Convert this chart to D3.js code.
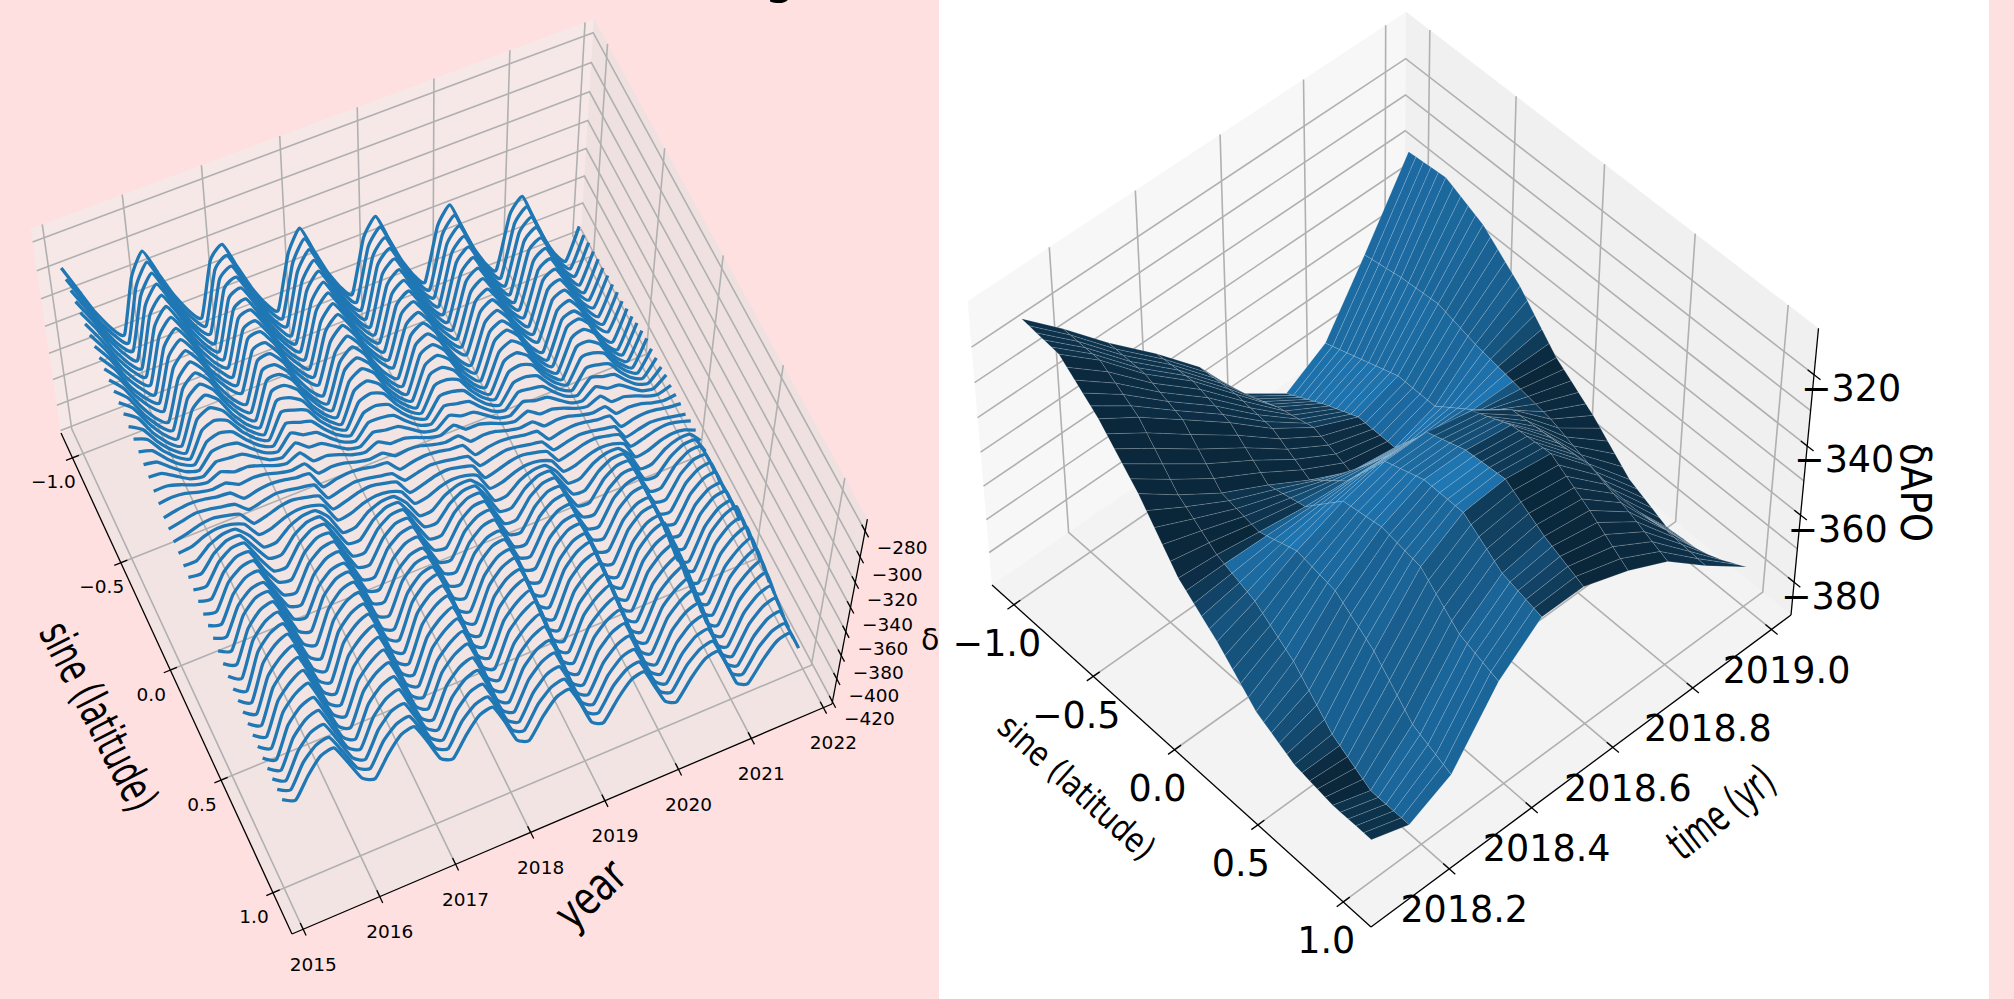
<!DOCTYPE html>
<html>
<head>
<meta charset="utf-8">
<script src="https://cdn.jsdelivr.net/npm/d3@7"></script>
<style>
  html, body { margin: 0; padding: 0; background: #ffe0e0; overflow: hidden; }
  text { font-family: "DejaVu Sans", sans-serif; fill: #000; }
</style>
</head>
<body>
<div id="chart"></div>
<script>
// left panel: one line per latitude, depth below zero (value is -depth)
const lineLats = d3.range(46).map(i => -1 + 2 * i / 45);
const lineTimes = d3.range(42).map(k => 2015.05 + k / 6);
const lineDepths = [
[284,303,322,337,346,308,293,312,331,346,355,317,309,328,347,362,371,333,318,337,356,371,380,342,330,349,368,383,392,354,342,361,380,395,404,366,356,375,394,409,418,395],
[285,303,322,336,345,308,294,312,331,345,354,317,310,328,347,361,370,333,319,337,356,370,379,342,331,349,368,382,391,354,343,361,380,394,403,366,357,375,394,408,417,395],
[286,303,321,336,344,308,295,312,330,345,353,317,311,328,346,361,369,333,320,337,355,370,378,342,332,349,367,382,390,354,344,361,379,394,402,366,358,375,393,408,416,394],
[287,303,321,335,344,308,296,312,330,344,353,317,312,328,346,360,369,333,321,337,355,369,378,342,333,349,367,381,390,354,345,361,379,393,402,366,359,375,393,407,416,394],
[288,303,321,335,343,308,297,312,330,344,352,317,313,328,346,360,368,333,322,337,355,369,377,342,334,349,367,381,389,354,346,361,379,393,401,366,360,375,393,407,415,393],
[289,304,321,334,342,309,298,313,330,343,351,318,314,329,346,359,367,334,323,338,355,368,376,343,335,350,367,380,388,355,347,362,379,392,400,367,361,376,393,406,414,393],
[290,304,321,334,341,309,299,313,330,343,350,318,315,329,346,359,366,334,324,338,355,368,375,343,336,350,367,380,387,355,348,362,379,392,399,367,362,376,393,406,413,392],
[291,304,321,333,341,310,300,313,330,342,350,319,316,329,346,358,366,335,325,338,355,367,375,344,337,350,367,379,387,356,349,362,379,391,399,368,363,376,393,405,413,392],
[292,304,321,333,340,310,301,313,330,342,349,319,317,329,346,358,365,335,326,338,355,367,374,344,338,350,367,379,386,356,350,362,379,391,398,368,364,376,393,405,412,391],
[293,304,320,332,339,311,302,313,329,341,348,320,318,329,345,357,364,336,327,338,354,366,373,345,339,350,366,378,385,357,351,362,378,390,397,369,365,376,392,404,411,391],
[294,304,320,333,340,312,303,313,329,342,349,321,319,329,345,358,365,337,328,338,354,367,374,346,340,350,366,379,386,358,352,362,378,391,398,370,366,376,392,405,412,390],
[295,304,320,332,339,312,304,313,329,341,348,321,320,329,345,357,364,337,329,338,354,366,373,346,341,350,366,378,385,358,353,362,378,390,397,370,367,376,392,404,411,389],
[296,304,319,331,338,312,305,313,328,340,347,321,320,328,343,355,362,336,330,338,353,365,372,346,342,350,365,377,384,358,353,361,376,388,395,369,366,374,389,401,408,387],
[297,304,319,330,336,313,306,313,328,339,345,322,321,328,343,354,360,337,331,338,353,364,370,347,343,350,365,376,382,359,354,361,376,387,393,370,367,374,389,400,406,386],
[299,305,318,328,334,313,308,314,327,337,343,322,323,329,342,352,358,337,333,339,352,362,368,347,345,351,364,374,380,359,356,362,375,385,391,370,369,375,388,398,404,385],
[301,305,317,326,331,314,310,314,326,335,340,323,325,329,341,350,355,338,335,339,351,360,365,348,347,351,363,372,377,360,358,362,374,383,388,371,371,375,387,396,401,386],
[303,306,316,324,328,315,312,315,325,333,337,324,327,330,340,348,352,339,337,340,350,358,362,349,349,352,362,370,374,361,360,363,373,381,385,372,373,376,386,394,398,386],
[305,307,315,322,325,315,314,316,324,331,334,324,329,331,339,346,349,339,339,341,349,356,359,349,351,353,361,368,371,361,362,364,372,379,382,372,375,377,385,392,395,386],
[307,308,314,320,322,315,316,317,323,329,331,324,331,332,338,344,346,339,341,342,348,354,356,349,353,354,360,366,368,361,364,365,371,377,379,372,377,378,384,390,392,385],
[310,310,313,317,319,315,319,319,322,326,328,324,334,334,337,341,343,339,344,344,347,351,353,349,356,356,359,363,365,361,367,367,370,374,376,372,380,380,383,387,389,386],
[312,311,312,315,317,316,321,320,321,324,326,325,336,335,336,339,341,340,346,345,346,349,351,350,358,357,358,361,363,362,369,368,369,372,374,373,382,381,382,385,387,386],
[315,313,312,313,315,316,324,322,321,322,324,325,339,337,336,337,339,340,349,347,346,347,349,350,361,359,358,359,361,362,372,370,369,370,372,373,385,383,382,383,385,386],
[316,314,312,313,315,317,325,323,321,322,324,326,340,338,336,337,339,341,350,348,346,347,349,351,362,360,358,359,361,363,373,371,369,370,372,374,386,384,382,383,385,387],
[318,316,313,312,314,317,328,326,323,322,324,327,341,339,336,335,337,340,352,350,347,346,348,351,364,362,359,358,360,363,374,372,369,368,370,373,386,384,381,380,382,385],
[319,318,314,312,313,317,329,328,324,322,323,327,342,341,337,335,336,340,353,352,348,346,347,351,365,364,360,358,359,363,375,374,370,368,369,373,387,386,382,380,381,385],
[321,321,313,309,309,318,331,331,323,319,319,328,344,344,336,332,332,341,355,355,347,343,343,352,367,367,359,355,355,364,377,377,369,365,365,374,389,389,381,377,377,386],
[322,323,312,306,306,319,332,333,322,316,316,329,345,346,335,329,329,342,356,357,346,340,340,353,368,369,358,352,352,365,378,379,368,362,362,375,390,391,380,374,374,387],
[324,325,311,304,304,320,334,335,321,314,314,330,347,348,334,327,327,343,358,359,345,338,338,354,370,371,357,350,350,366,380,381,367,360,360,376,392,393,379,372,372,388],
[325,327,311,303,303,321,335,337,321,313,313,331,348,350,334,326,326,344,359,361,345,337,337,355,371,373,357,349,349,367,381,383,367,359,359,377,393,395,379,371,371,389],
[327,329,311,303,302,321,337,339,321,313,312,331,350,352,334,326,325,344,361,363,345,337,336,355,373,375,357,349,348,367,383,385,367,359,358,377,395,397,379,371,370,389],
[328,331,312,303,302,321,338,341,322,313,312,331,351,354,335,326,325,344,362,365,346,337,336,355,374,377,358,349,348,367,384,387,368,359,358,377,396,399,380,371,370,389],
[330,333,313,304,303,320,340,343,323,314,313,330,353,356,336,327,326,343,364,367,347,338,337,354,376,379,359,350,349,366,386,389,369,360,359,376,398,401,381,372,371,388],
[332,336,313,303,302,321,342,346,323,313,312,331,355,359,336,326,325,344,366,370,347,337,336,355,378,382,359,349,348,367,388,392,369,359,358,377,400,404,381,371,370,389],
[334,339,315,304,302,322,344,349,325,314,312,332,357,362,338,327,325,345,368,373,349,338,336,356,380,385,361,350,348,368,390,395,371,360,358,378,402,407,383,372,370,390],
[336,342,316,305,302,323,346,352,326,315,312,333,357,363,337,326,323,344,369,375,349,338,335,356,381,387,361,350,347,368,390,396,370,359,356,377,401,407,381,370,367,388],
[338,344,317,306,303,324,348,354,327,316,313,334,359,365,338,327,324,345,371,377,350,339,336,357,383,389,362,351,348,369,392,398,371,360,357,378,403,409,382,371,368,389],
[339,345,318,307,303,325,349,355,328,317,313,335,360,366,339,328,324,346,372,378,351,340,336,358,384,390,363,352,348,370,393,399,372,361,357,379,404,410,383,372,368,390],
[340,346,320,309,304,326,350,356,330,319,314,336,361,367,341,330,325,347,373,379,353,342,337,359,385,391,365,354,349,371,394,400,374,363,358,380,405,411,385,374,369,391],
[341,347,321,310,305,327,351,357,331,320,315,337,362,368,342,331,326,348,374,380,354,343,338,360,386,392,366,355,350,372,395,401,375,364,359,381,406,412,386,375,370,392],
[342,348,323,312,307,329,352,358,333,322,317,339,363,369,344,333,328,350,375,381,356,345,340,362,387,393,368,357,352,374,396,402,377,366,361,383,407,413,388,377,372,394],
[343,349,324,313,309,330,353,359,334,323,319,340,364,370,345,334,330,351,376,382,357,346,342,363,388,394,369,358,354,375,397,403,378,367,363,384,408,414,389,378,374,395],
[344,350,326,315,312,332,354,360,336,325,322,342,365,371,347,336,333,353,377,383,359,348,345,365,389,395,371,360,357,377,398,404,380,369,366,386,409,415,391,380,377,397],
[344,350,328,317,314,334,354,360,338,327,324,344,365,371,349,338,335,355,377,383,361,350,347,367,389,395,373,362,359,379,398,404,382,371,368,388,409,415,393,382,379,399],
[344,350,330,319,317,335,354,360,340,329,327,345,365,371,351,340,338,356,377,383,363,352,350,368,389,395,375,364,362,380,398,404,384,373,371,389,409,415,395,384,382,400],
[344,349,331,321,319,336,354,359,341,331,329,346,365,370,352,342,340,357,377,382,364,354,352,369,389,394,376,366,364,381,398,403,385,375,373,390,409,414,396,386,384,401],
[344,349,333,321,319,336,354,359,343,331,329,346,365,370,354,342,340,357,377,382,366,354,352,369,389,394,378,366,364,381,398,403,387,375,373,390,409,414,398,386,384,401]
];
const lineSineTicks = [-1, -0.5, 0, 0.5, 1];
const lineSineLabels = ["−1.0", "−0.5", "0.0", "0.5", "1.0"];
const lineYearTicks = [2015, 2016, 2017, 2018, 2019, 2020, 2021, 2022];
const lineZTicks = [-280, -300, -320, -340, -360, -380, -400, -420];

// right panel: surface, rows are latitudes, columns are times
const surfLats = d3.range(46).map(i => -1 + 2 * i / 45);
const surfTimes = [2018.08, 2018.17, 2018.27, 2018.38, 2018.48, 2018.58, 2018.69, 2018.79, 2018.89, 2019.0];
const surfDepths = [
[312,322,334,346,358,374,383,376,358,337],
[312.2,322,334,345.8,357.8,373,381.8,375.2,357.6,336.8],
[312.4,322,334,345.6,357.6,372,380.6,374.4,357.2,336.6],
[312.6,322,334,345.4,357.4,371,379.4,373.6,356.8,336.4],
[312.8,322,334,345.2,357.2,370,378.2,372.8,356.4,336.2],
[313,322,334,345,357,369,377,372,356,336],
[314.8,323.4,334.8,345.6,357.2,368.4,376,371.2,355.8,337],
[316.6,324.8,335.6,346.2,357.4,367.8,375,370.4,355.6,338],
[318.4,326.2,336.4,346.8,357.6,367.2,374,369.6,355.4,339],
[320.2,327.6,337.2,347.4,357.8,366.6,373,368.8,355.2,340],
[322,329,338,348,358,366,372,368,355,341],
[324.4,331.6,340.4,349.8,359.2,366.8,372,368,355.6,342.8],
[326.8,334.2,342.8,351.6,360.4,367.6,372,368,356.2,344.6],
[329.2,336.8,345.2,353.4,361.6,368.4,372,368,356.8,346.4],
[331.6,339.4,347.6,355.2,362.8,369.2,372,368,357.4,348.2],
[334,342,350,357,364,370,372,368,358,350],
[337,343.6,350.4,356.4,362.2,367.2,369.2,366.4,358.4,352.4],
[340,345.2,350.8,355.8,360.4,364.4,366.4,364.8,358.8,354.8],
[343,346.8,351.2,355.2,358.6,361.6,363.6,363.2,359.2,357.2],
[346,348.4,351.6,354.6,356.8,358.8,360.8,361.6,359.6,359.6],
[349,350,352,354,355,356,358,360,360,362],
[350.8,350.8,351.2,351.8,352,352.8,355,358.2,360.4,363.6],
[352.6,351.6,350.4,349.6,349,349.6,352,356.4,360.8,365.2],
[354.4,352.4,349.6,347.4,346,346.4,349,354.6,361.2,366.8],
[356.2,353.2,348.8,345.2,343,343.2,346,352.8,361.6,368.4],
[358,354,348,343,340,340,343,351,362,370],
[360.2,355.6,348.4,342.6,339.2,339.2,342,350.8,362.8,372],
[362.4,357.2,348.8,342.2,338.4,338.4,341,350.6,363.6,374],
[364.6,358.8,349.2,341.8,337.6,337.6,340,350.4,364.4,376],
[366.8,360.4,349.6,341.4,336.8,336.8,339,350.2,365.2,378],
[369,362,350,341,336,336,338,350,366,380],
[370.2,364.4,351.6,341.4,336,335.8,337.8,349.8,366.6,381],
[371.4,366.8,353.2,341.8,336,335.6,337.6,349.6,367.2,382],
[372.6,369.2,354.8,342.2,336,335.4,337.4,349.4,367.8,383],
[373.8,371.6,356.4,342.6,336,335.2,337.2,349.2,368.4,384],
[375,374,358,343,336,335,337,349,369,385],
[375.4,375.4,360.4,345,337.6,336.4,338.4,349.8,368.6,384.8],
[375.8,376.8,362.8,347,339.2,337.8,339.8,350.6,368.2,384.6],
[376.2,378.2,365.2,349,340.8,339.2,341.2,351.4,367.8,384.4],
[376.6,379.6,367.6,351,342.4,340.6,342.6,352.2,367.4,384.2],
[377,381,370,353,344,342,344,353,367,384],
[377,381,371,353.8,344.6,343,345.6,354,367.2,382.8],
[377,381,372,354.6,345.2,344,347.2,355,367.4,381.6],
[377,381,373,355.4,345.8,345,348.8,356,367.6,380.4],
[377,381,374,356.2,346.4,346,350.4,357,367.8,379.2],
[377,381,375,357,347,347,352,358,368,378]
];
const surfSineTicks = [-1, -0.5, 0, 0.5, 1];
const surfSineLabels = ["−1.0", "−0.5", "0.0", "0.5", "1.0"];
const surfTimeTicks = [2018.2, 2018.4, 2018.6, 2018.8, 2019.0];
const surfTimeLabels = ["2018.2", "2018.4", "2018.6", "2018.8", "2019.0"];
const surfZGrid = [-320, -330, -340, -350, -360, -370, -380];
const surfZTicks = [-320, -340, -360, -380];

const width = 2014, height = 999, splitX = 939, whiteEnd = 1989;

const svg = d3.select("#chart").append("svg")
    .attr("width", width)
    .attr("height", height)
    .style("display", "block");

svg.append("rect").attr("width", width).attr("height", height).attr("fill", "#ffe0e0");
svg.append("defs").append("clipPath").attr("id", "leftClip")
    .append("rect").attr("width", splitX).attr("height", height);

// plain gaussian elimination
function solve(A, b) {
    let n = b.length;
    let M = A.map((r, i) => r.concat([b[i]]));
    for (let c = 0; c < n; c++) {
        let p = c;
        for (let r = c + 1; r < n; r++) if (Math.abs(M[r][c]) > Math.abs(M[p][c])) p = r;
        [M[c], M[p]] = [M[p], M[c]];
        for (let r = 0; r < n; r++) {
            if (r === c) continue;
            let f = M[r][c] / M[c][c];
            for (let k = c; k <= n; k++) M[r][k] -= f * M[c][k];
        }
    }
    return M.map((r, i) => r[n] / r[i]);
}

// camera from the screen position of the box corners: floor is a homography, z adds one column
function makeCamera(floor, top) {
    let uv = [[0, 0], [1, 0], [1, 1], [0, 1]];
    let A = [], b = [];
    floor.forEach((p, i) => {
        let [u, v] = uv[i], [X, Y] = p;
        A.push([u, v, 1, 0, 0, 0, -X * u, -X * v]); b.push(X);
        A.push([0, 0, 0, u, v, 1, -Y * u, -Y * v]); b.push(Y);
    });
    let [a1, a2, a3, b1, b2, b3, g, h] = solve(A, b);

    // least squares for the z column
    let N = [[0, 0, 0], [0, 0, 0], [0, 0, 0]], r = [0, 0, 0];
    top.forEach(t => {
        let [u, v, X, Y] = t;
        let W = g * u + h * v + 1;
        [[1, 0, -X, X * W - (a1 * u + a2 * v + a3)], [0, 1, -Y, Y * W - (b1 * u + b2 * v + b3)]].forEach(e => {
            for (let i = 0; i < 3; i++) {
                r[i] += e[i] * e[3];
                for (let j = 0; j < 3; j++) N[i][j] += e[i] * e[j];
            }
        });
    });
    let [c1, c2, c3] = solve(N, r);

    return function (u, v, w) {
        let den = g * u + h * v + c3 * w + 1;
        return [(a1 * u + a2 * v + c1 * w + a3) / den, (b1 * u + b2 * v + c2 * w + b3) / den, den];
    };
}

const pathLine = d3.line().x(d => d[0]).y(d => d[1]);

// box: panes, grid, axes, ticks, tick labels
function drawBox(g, cam, opt) {
    let { su, sv, sw } = opt;

    [
        { fill: "rgb(239,239,239)", pts: [[0, 0, 0], [0, 1, 0], [0, 1, 1], [0, 0, 1]] },
        { fill: "rgb(225,225,225)", pts: [[0, 1, 0], [1, 1, 0], [1, 1, 1], [0, 1, 1]] },
        { fill: "rgb(231,231,231)", pts: [[0, 0, 0], [1, 0, 0], [1, 1, 0], [0, 1, 0]] }
    ].forEach(pane => {
        g.append("path")
            .attr("d", pathLine(pane.pts.map(p => cam(...p))) + "Z")
            .attr("fill", pane.fill)
            .attr("fill-opacity", 0.5);
    });

    let grid = g.append("g").attr("fill", "none").attr("stroke", "#b0b0b0").attr("stroke-width", 1.6);
    let poly = pts => grid.append("path").attr("d", pathLine(pts.map(p => cam(...p))));
    opt.sineTicks.forEach(s => { let u = su(s); poly([[u, 0, 0], [u, 1, 0], [u, 1, 1]]); });
    opt.timeTicks.forEach(t => { let v = sv(t); poly([[1, v, 0], [0, v, 0], [0, v, 1]]); });
    opt.zGrid.forEach(z => { let w = sw(z); poly([[0, 0, w], [0, 1, w], [1, 1, w]]); });

    let ax = g.append("g").attr("fill", "none").attr("stroke", "#000").attr("stroke-width", 1.3);
    let seg = pts => ax.append("path").attr("d", pathLine(pts.map(p => cam(...p))));
    seg([[0, 0, 0], [1, 0, 0]]);
    seg([[1, 0, 0], [1, 1, 0]]);
    seg([[1, 1, 0], [1, 1, 1]]);

    let label = (p, off, txt) => {
        g.append("text")
            .attr("x", p[0] + off[0])
            .attr("y", p[1] + off[1])
            .attr("text-anchor", "middle")
            .attr("dominant-baseline", "central")
            .attr("font-size", opt.fontSize)
            .text(txt);
    };
    opt.sineTicks.forEach((s, i) => {
        let u = su(s);
        seg([[u, -opt.tick, 0], [u, opt.tick, 0]]);
        label(cam(u, 0, 0), opt.sineOff, opt.sineLabels[i]);
    });
    opt.timeTicks.forEach((t, i) => {
        let v = sv(t);
        seg([[1 - opt.tick, v, 0], [1 + opt.tick, v, 0]]);
        label(cam(1, v, 0), opt.timeOff, opt.timeLabels[i]);
    });
    opt.zTicks.forEach(z => {
        let w = sw(z);
        seg([[1 - opt.tick, 1, w], [1 + opt.tick, 1, w]]);
        label(cam(1, 1, w), opt.zOff, "−" + Math.abs(z));
    });
}

function axisTitle(g, t) {
    let txt = g.append("text")
        .attr("transform", "translate(" + t.x + "," + t.y + ") rotate(" + t.angle + ")")
        .attr("text-anchor", t.anchor || "middle")
        .attr("dominant-baseline", t.baseline || "central")
        .attr("font-size", t.size)
        .text(t.text);
    if (t.length) txt.attr("textLength", t.length).attr("lengthAdjust", "spacingAndGlyphs");
}

/* left panel: stacked lines */
function drawLines() {
    let g = svg.append("g").attr("clip-path", "url(#leftClip)");

    let cam = makeCamera(
        [[61, 433], [292, 934], [832, 704], [581, 232]],
        [[0, 0, 31, 235], [1, 1, 867, 517], [0, 1, 594, 15]]
    );
    let su = d3.scaleLinear().domain([-1.12, 1.18]).range([0, 1]);
    let sv = d3.scaleLinear().domain([2014.855, 2022.12]).range([0, 1]);
    let sw = d3.scaleLinear().domain([-422, -271]).range([0, 1]);

    drawBox(g, cam, {
        su, sv, sw,
        sineTicks: lineSineTicks, sineLabels: lineSineLabels,
        timeTicks: lineYearTicks, timeLabels: lineYearTicks.map(String),
        zGrid: lineZTicks, zTicks: lineZTicks,
        tick: 0.012, fontSize: 18.5,
        sineOff: [-19, 24], timeOff: [10, 35], zOff: [37, 17]
    });

    axisTitle(g, { text: "sine (latitude)", x: 99, y: 716, angle: 63, size: 46, length: 205 });
    axisTitle(g, { text: "year", x: 590, y: 894, angle: -43, size: 46, length: 78 });
    axisTitle(g, { text: "δAPO", x: 921, y: 650, angle: 0, size: 30, anchor: "start", baseline: "alphabetic" });

    let line = d3.line()
        .x(d => d[0])
        .y(d => d[1])
        .curve(d3.curveCardinal.tension(0.5));

    g.append("g").selectAll("path")
        .data(lineDepths)
        .enter().append("path")
        .attr("fill", "none")
        .attr("stroke", "#1f77b4")
        .attr("stroke-width", 3.3)
        .attr("stroke-linejoin", "round")
        .attr("d", (row, i) => line(row.map((z, k) => cam(su(lineLats[i]), sv(lineTimes[k]), sw(-z)))));

    // title runs off the top of the page, only the descender shows
    g.append("text").attr("x", 764).attr("y", -7).attr("font-size", 50).text("g");
}

/* right panel: shaded surface */
function drawSurface() {
    svg.append("rect").attr("x", splitX).attr("width", whiteEnd - splitX).attr("height", height).attr("fill", "#fff");
    let g = svg.append("g");

    let cam = makeCamera(
        [[992, 585], [1371, 927], [1791, 615], [1404, 302]],
        [[0, 0, 965, 298], [1, 1, 1818, 328], [0, 1, 1409, 15]]
    );
    let su = d3.scaleLinear().domain([-1.14, 1.16]).range([0, 1]);
    let sv = d3.scaleLinear().domain([2018.013, 2019.05]).range([0, 1]);
    let sw = d3.scaleLinear().domain([-390, -307.3]).range([0, 1]);

    drawBox(g, cam, {
        su, sv, sw,
        sineTicks: surfSineTicks, sineLabels: surfSineLabels,
        timeTicks: surfTimeTicks, timeLabels: surfTimeLabels,
        zGrid: surfZGrid, zTicks: surfZTicks,
        tick: 0.015, fontSize: 36.5,
        sineOff: [-17, 39], timeOff: [15, 41], zOff: [37, 14]
    });

    axisTitle(g, { text: "sine (latitude)", x: 1077, y: 787, angle: 42, size: 34, length: 198 });
    axisTitle(g, { text: "time (yr)", x: 1721, y: 812, angle: -38, size: 44, length: 122 });
    axisTitle(g, { text: "δAPO", x: 1901, y: 443, angle: 90, size: 42, length: 99, anchor: "start", baseline: "alphabetic" });

    // same lighting as matplotlib's plot_surface
    let light = [-0.667, -0.667, 0.333];
    let base = d3.rgb("#1f77b4");
    let faces = [];
    d3.range(surfLats.length - 1).forEach(i => {
        d3.range(surfTimes.length - 1).forEach(j => {
            let s0 = surfLats[i], s1 = surfLats[i + 1], t0 = surfTimes[j], t1 = surfTimes[j + 1];
            let zs = (-surfDepths[i + 1][j] + surfDepths[i][j] - surfDepths[i + 1][j + 1] + surfDepths[i][j + 1]) / (2 * (s1 - s0));
            let zt = (-surfDepths[i][j + 1] + surfDepths[i][j] - surfDepths[i + 1][j + 1] + surfDepths[i + 1][j]) / (2 * (t1 - t0));
            let len = Math.sqrt(zs * zs + zt * zt + 1);
            let dot = (light[0] * -zs + light[1] * -zt + light[2]) / len;
            let shade = 0.3 + 0.35 * (dot + 1);
            let pts = [[i, j], [i + 1, j], [i + 1, j + 1], [i, j + 1]]
                .map(p => cam(su(surfLats[p[0]]), sv(surfTimes[p[1]]), sw(-surfDepths[p[0]][p[1]])));
            faces.push({ pts, depth: d3.mean(pts, p => p[2]), color: d3.rgb(base.r * shade, base.g * shade, base.b * shade) });
        });
    });
    faces.sort((a, b) => b.depth - a.depth);

    g.append("g").selectAll("path")
        .data(faces)
        .enter().append("path")
        .attr("d", d => pathLine(d.pts) + "Z")
        .attr("fill", d => d.color)
        .attr("stroke", "rgba(255,255,255,0.3)")
        .attr("stroke-width", 0.5);
}

drawLines();
drawSurface();
</script>
</body>
</html>
